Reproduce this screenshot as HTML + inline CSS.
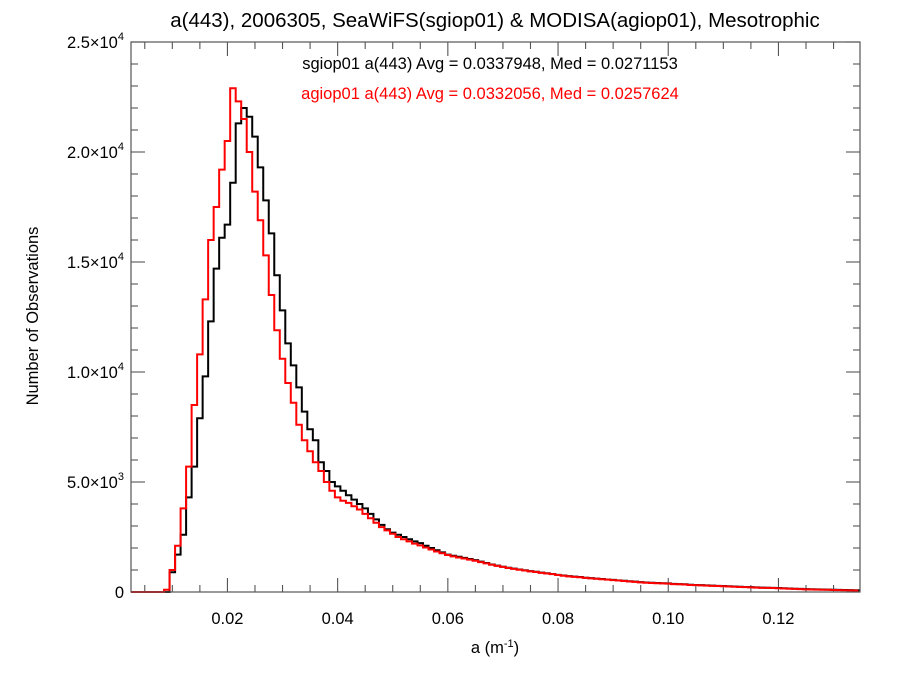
<!DOCTYPE html>
<html><head><meta charset="utf-8">
<style>
html,body{margin:0;padding:0;background:#fff;}
svg{display:block;font-family:"Liberation Sans",sans-serif;}
</style></head>
<body>
<svg id="chart" width="900" height="675" viewBox="0 0 900 675" xmlns="http://www.w3.org/2000/svg">
<text x="495" y="27" font-size="20.5" text-anchor="middle" fill="#000">a(443), 2006305, SeaWiFS(sgiop01) &amp; MODISA(agiop01), Mesotrophic</text>
<text x="490" y="69" font-size="16.5" text-anchor="middle" fill="#000">sgiop01 a(443) Avg = 0.0337948, Med = 0.0271153</text>
<text x="490" y="99" font-size="16.5" text-anchor="middle" fill="#ff0000">agiop01 a(443) Avg = 0.0332056, Med = 0.0257624</text>
<text transform="translate(38,316) rotate(-90)" font-size="16.5" text-anchor="middle" fill="#000">Number of Observations</text>
<text x="495" y="653" font-size="16.5" text-anchor="middle" fill="#000">a (m<tspan dy="-6" font-size="11">-1</tspan><tspan dy="6">)</tspan></text>
<g id="ticks"></g>
<g id="series"></g>
<rect x="131" y="42" width="729" height="550" fill="none" stroke="#555" stroke-width="1.2"/>
</svg>
<script>
const binStart = 0.0025;
const binWidth = 0.001;
const sgiop01Counts = [0,0,0,0,0,0,0,900,1700,2600,4300,5700,7900,9800,12300,14700,16100,16700,18600,21300,22000,21600,20700,19300,17800,16300,14400,12800,11300,10300,9300,8200,7400,6900,5900,5500,5000,4800,4600,4400,4200,4000,3800,3550,3300,3050,2850,2700,2600,2500,2400,2300,2220,2100,2000,1900,1800,1700,1650,1600,1550,1500,1450,1380,1320,1250,1200,1150,1100,1060,1020,990,950,920,880,850,820,780,750,720,700,680,650,630,610,590,570,550,530,510,490,470,450,430,420,410,400,390,370,360,350,330,320,310,300,290,280,270,260,250,240,230,220,210,200,195,190,180,170,160,150,140,130,125,120,115,110,100,95,90,85,80,75];
const agiop01Counts = [0,0,0,0,0,0,100,1000,2100,3800,5700,8500,10800,13300,16000,17500,19200,20500,22900,22300,21500,20000,18200,16900,15300,13500,11900,10600,9500,8600,7600,6900,6400,5900,5500,5000,4600,4300,4150,4050,3900,3750,3550,3350,3150,2950,2800,2650,2500,2400,2300,2200,2120,2020,1930,1840,1760,1680,1620,1570,1520,1470,1420,1360,1300,1240,1190,1140,1090,1050,1010,980,940,910,870,840,810,770,740,710,690,670,640,620,600,580,560,540,520,500,480,460,440,420,410,400,390,380,360,350,340,320,310,300,290,280,270,260,250,240,230,220,210,200,190,185,180,170,160,150,140,130,120,115,110,105,100,90,85,80,75,70];
const yTickValues = [0,5000,10000,15000,20000,25000];
const yTickLabels = ["0","5.0×10|3","1.0×10|4","1.5×10|4","2.0×10|4","2.5×10|4"];
const xTickValues = [0.02,0.04,0.06,0.08,0.10,0.12];
const xTickLabels = ["0.02","0.04","0.06","0.08","0.10","0.12"];

const X0=131,X1=860,Y0=592,Y1=42;
const xMin=0.0025,xMax=0.1348,yMin=0,yMax=25000;
const sx=v=>X0+(v-xMin)/(xMax-xMin)*(X1-X0);
const sy=v=>Y0-(v-yMin)/(yMax-yMin)*(Y0-Y1);
const NS="http://www.w3.org/2000/svg";
const tg=document.getElementById('ticks');
const sg=document.getElementById('series');
function line(g,x1,y1,x2,y2,name){
  const l=document.createElementNS(NS,'line');
  l.setAttribute('x1',x1);l.setAttribute('y1',y1);l.setAttribute('x2',x2);l.setAttribute('y2',y2);
  l.setAttribute('stroke','#555');l.setAttribute('stroke-width','1.1');
  
  
  g.appendChild(l);
}
for(let v=0; v<=25000; v+=1000){
  const major = v%5000===0;
  const len = major?14:7;
  const y=sy(v);
  line(tg,X0,y,X0+len,y,'y-tick');
  line(tg,X1,y,X1-len,y,'y-tick-right');
}
yTickValues.forEach((v,i)=>{
  const t=document.createElementNS(NS,'text');
  
  
  t.setAttribute('x',124);t.setAttribute('y',sy(v)+6);
  t.setAttribute('font-size','16.5');t.setAttribute('text-anchor','end');
  const parts=yTickLabels[i].split('|');
  t.textContent=parts[0];
  if(parts.length===2){
    const sp=document.createElementNS(NS,'tspan');
    sp.setAttribute('dy','-8');sp.setAttribute('font-size','11');
    sp.textContent=parts[1];
    t.appendChild(sp);
  }
  tg.appendChild(t);
});
for(let k=1;k<=26;k++){
  const v=k*0.005;
  if(v>xMax) break;
  const major = k%4===0;
  const len = major?14:7;
  const x=sx(v);
  line(tg,x,Y0,x,Y0-len,'x-tick');
  line(tg,x,Y1,x,Y1+len,'x-tick-top');
}
xTickValues.forEach((v,i)=>{
  const t=document.createElementNS(NS,'text');
  
  
  t.setAttribute('x',sx(v));t.setAttribute('y',624);
  t.setAttribute('font-size','16.5');t.setAttribute('text-anchor','middle');
  t.textContent=xTickLabels[i];
  tg.appendChild(t);
});
function stepPath(counts){
  let d='M'+sx(xMin)+','+sy(0);
  counts.forEach((c,i)=>{
    const a=binStart+i*binWidth, b=Math.min(a+binWidth,xMax);
    d+=' L'+sx(a)+','+sy(c)+' L'+sx(b)+','+sy(c);
  });
  return d;
}
const pb=document.createElementNS(NS,'path');


pb.setAttribute('d',stepPath(sgiop01Counts));
pb.setAttribute('fill','none');pb.setAttribute('stroke','#000');pb.setAttribute('stroke-width','2');
sg.appendChild(pb);
const pr=document.createElementNS(NS,'path');


pr.setAttribute('d',stepPath(agiop01Counts));
pr.setAttribute('fill','none');pr.setAttribute('stroke','#ff0000');pr.setAttribute('stroke-width','2');
sg.appendChild(pr);
</script>
</body></html>
